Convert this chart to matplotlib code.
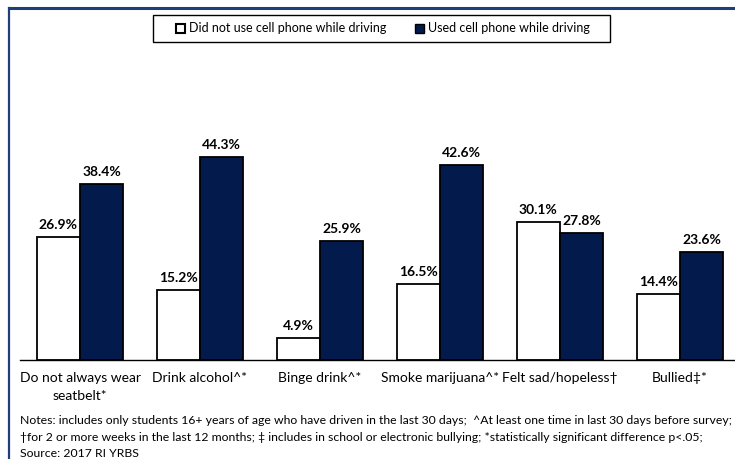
import matplotlib
matplotlib.use("Agg")
import matplotlib.pyplot as plt
from matplotlib.patches import Rectangle
from matplotlib.lines import Line2D
import numpy as np

plt.rcParams['font.family'] = ['Lato', 'DejaVu Sans']

categories = ["Do not always wear\nseatbelt*", "Drink alcohol^*", "Binge drink^*",
              "Smoke marijuana^*", "Felt sad/hopeless\u2020", "Bullied\u2021*"]
no_phone = [26.9, 15.2, 4.9, 16.5, 30.1, 14.4]
used_phone = [38.4, 44.3, 25.9, 42.6, 27.8, 23.6]
series_names = ["Did not use cell phone while driving", "Used cell phone while driving"]

navy = "#031a4c"
W, H = 735, 459
fig = plt.figure(figsize=(W / 100, H / 100), dpi=100)

# axes: baseline at y=360 px, group pitch 120 px starting at x=20
ax = fig.add_axes([20 / W, (H - 360) / H, 715 / W, 229 / H])
x = np.arange(len(categories))
bw = 0.36
ax.bar(x - bw / 2, no_phone, bw, color="white", edgecolor="black", linewidth=1.3)
ax.bar(x + bw / 2, used_phone, bw, color=navy, edgecolor="black", linewidth=1.3)
for xi, v in zip(x - bw / 2, no_phone):
    ax.text(xi, v + 1.3, f"{v:.1f}%", ha="center", va="bottom", fontsize=10, fontweight="bold")
for xi, v in zip(x + bw / 2, used_phone):
    ax.text(xi, v + 1.3, f"{v:.1f}%", ha="center", va="bottom", fontsize=10, fontweight="bold")

ax.set_xlim(-0.5, -0.5 + 715 / 120)
ax.set_ylim(0, 50)
for s in ["top", "right", "left"]:
    ax.spines[s].set_visible(False)
ax.spines["bottom"].set_linewidth(1.0)
ax.set_yticks([])
ax.set_xticks(x)
ax.set_xticklabels(categories, fontsize=10, linespacing=1.5)
ax.tick_params(axis="x", length=0, pad=9)
for lbl in ax.get_xticklabels():
    lbl.set_multialignment("center")

# legend (frame drawn separately for wider side padding)
handles = [Rectangle((0, 0), 1, 1, facecolor="white", edgecolor="black", linewidth=1.5),
           Rectangle((0, 0), 1, 1, facecolor=navy, edgecolor="black", linewidth=1.0)]
fig.legend(handles, series_names, loc="center", bbox_to_anchor=(383 / W, 1 - 28.5 / H),
           ncol=2, fontsize=9, frameon=False,
           handlelength=0.7, handleheight=0.7, handletextpad=0.3, columnspacing=2.3)
fig.add_artist(Rectangle((153 / W, 1 - 42 / H), 457 / W, 27 / H, transform=fig.transFigure,
                         facecolor="none", edgecolor="black", linewidth=1.0))

# notes
notes = ("Notes: includes only students 16+ years of age who have driven in the last 30 days;  ^At least one time in last 30 days before survey;\n"
         "\u2020for 2 or more weeks in the last 12 months; \u2021 includes in school or electronic bullying; *statistically significant difference p<.05;\n"
         "Source: 2017 RI YRBS")
fig.text(20 / W, 1 - 415 / H, notes, ha="left", va="top", fontsize=8.8, linespacing=1.62)

# outer frame
fig.add_artist(Line2D([9 / W, 1], [1 - 7.5 / H, 1 - 7.5 / H], color="#1f3f7a", linewidth=2.2))
fig.add_artist(Line2D([9 / W, 9 / W], [1 - 7.5 / H, 0], color="#1f3f7a", linewidth=1.6))

fig.savefig("out.png", dpi=100)
